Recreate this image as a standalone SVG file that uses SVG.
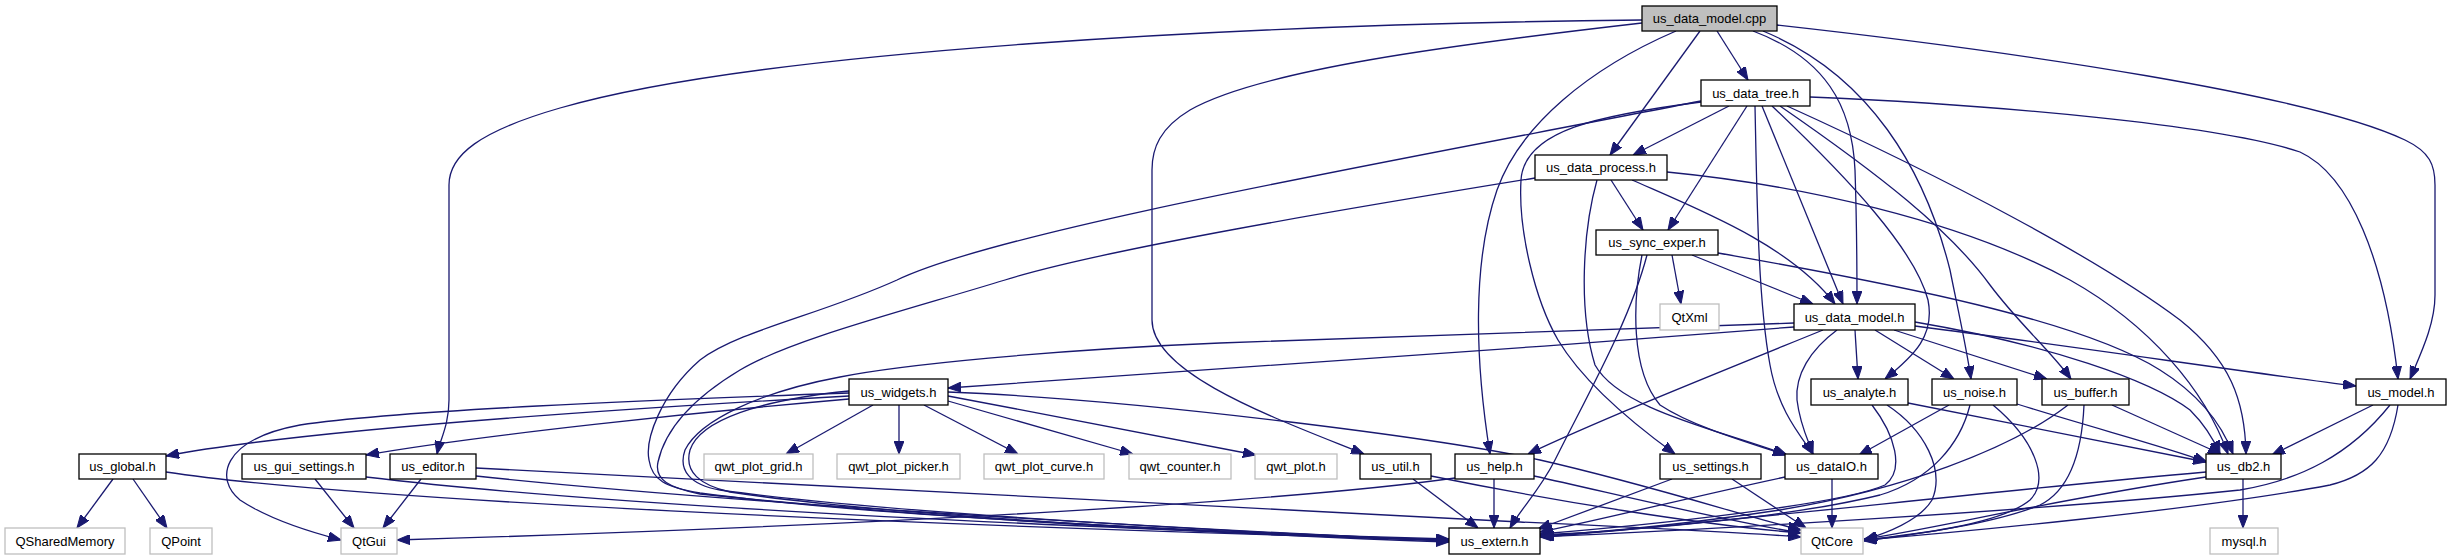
<svg xmlns="http://www.w3.org/2000/svg" width="2451" height="560" viewBox="0 0 2451 560">
<defs>
<marker id="a" viewBox="0 0 13 10" refX="13" refY="5" markerWidth="13" markerHeight="10" markerUnits="userSpaceOnUse" orient="auto">
<path d="M0,0 L13,5 L0,10 z" fill="#191970" stroke="#191970" stroke-width="1"/>
</marker>
</defs>
<style>
.e path{fill:none;stroke:#191970;stroke-width:1.3;marker-end:url(#a)}
.n rect{fill:#fff;stroke:#000;stroke-width:1.3}
.x rect{fill:#fff;stroke:#bfbfbf;stroke-width:1.3}
.r rect{fill:#bfbfbf;stroke:#000;stroke-width:1.3}
text{font-family:"Liberation Sans",Arial,sans-serif;font-size:13px;fill:#000;text-anchor:middle}
</style>
<rect width="2451" height="560" fill="#fff"/>
<g id="edges" class="e">
<path d="M1642,20 C1250,24 760,50 560,108 C480,131 449,155 449,185 L449,400 C449,425 440,440 437,454"/>
<path d="M1642,23 C1450,45 1260,70 1190,110 C1160,128 1152,148 1152,170 L1152,320 C1152,375 1280,420 1364,454"/>
<path d="M1700,31 L1610,155"/>
<path d="M1717,31 L1748,80"/>
<path d="M1753,31 C1825,58 1852,105 1855,170 C1857,230 1857,270 1857,304"/>
<path d="M1763,31 C1870,75 1925,170 1950,270 C1958,310 1966,345 1971,379"/>
<path d="M1777,25 C2020,52 2310,95 2405,140 C2430,152 2435,165 2435,185 L2435,295 C2435,325 2420,355 2410,379"/>
<path d="M1676,31 C1590,68 1520,125 1497,190 C1472,262 1475,360 1490,454"/>
<path d="M1729,106 L1633,155"/>
<path d="M1747,106 L1668,230"/>
<path d="M1762,106 L1843,304"/>
<path d="M1755,106 C1757,200 1758,300 1770,365 C1778,410 1800,435 1813,454"/>
<path d="M1701,102 C1600,115 1524,130 1521,180 C1518,230 1535,300 1558,340 C1585,385 1635,425 1675,454"/>
<path d="M1701,101 C1400,160 1000,230 897,280 C820,315 740,330 700,360 C660,395 645,440 649,460 C652,480 665,487 700,493 C900,520 1300,535 1449,539"/>
<path d="M1772,106 C1850,180 1915,250 1928,300 C1935,335 1915,355 1885,379"/>
<path d="M1780,106 C1880,175 1950,230 1990,285 C2020,325 2050,350 2071,379"/>
<path d="M1787,106 C1950,180 2100,260 2180,320 C2230,360 2245,400 2246,454"/>
<path d="M1810,97 C2000,105 2220,125 2300,152 C2350,175 2385,260 2398,379"/>
<path d="M1611,180 L1643,230"/>
<path d="M1632,180 C1700,210 1790,245 1835,304"/>
<path d="M1597,180 C1583,230 1578,310 1595,365 C1620,410 1720,430 1787,455"/>
<path d="M1535,178 C1350,208 1100,250 1005,280 C900,312 790,340 740,370 C690,400 665,430 658,462 C654,480 670,488 700,494 C1000,525 1300,537 1449,540"/>
<path d="M1667,172 C1800,185 1960,220 2070,280 C2150,325 2205,390 2228,454"/>
<path d="M1692,255 L1813,304"/>
<path d="M1672,255 L1681,304"/>
<path d="M1647,255 C1630,320 1590,390 1555,460 C1540,490 1520,510 1510,528"/>
<path d="M1642,255 C1633,300 1630,370 1660,405 C1690,425 1740,440 1786,455"/>
<path d="M1718,253 C1900,285 2080,320 2160,370 C2200,395 2222,425 2233,454"/>
<path d="M1794,327 C1500,350 1150,375 948,388"/>
<path d="M1794,323 L1220,343 C1050,350 900,365 840,377 C760,392 700,420 685,450 C678,470 690,485 720,490 C900,515 1300,535 1449,541"/>
<path d="M1823,330 C1700,380 1600,420 1528,454"/>
<path d="M1837,330 C1810,350 1795,375 1797,400 C1800,425 1808,440 1813,454"/>
<path d="M1855,330 L1858,379"/>
<path d="M1875,330 L1954,379"/>
<path d="M1894,330 L2047,379"/>
<path d="M1915,322 C2050,345 2150,380 2190,410 C2205,425 2214,440 2220,454"/>
<path d="M1915,326 C2100,350 2250,373 2356,386"/>
<path d="M849,393 C650,400 400,410 300,425 C220,440 215,480 240,500 C270,520 310,532 341,540"/>
<path d="M849,396 C600,410 300,430 166,456"/>
<path d="M849,399 C700,412 480,435 366,455"/>
<path d="M873,405 L786,454"/>
<path d="M899,405 L899,454"/>
<path d="M924,405 L1018,454"/>
<path d="M948,401 L1133,454"/>
<path d="M948,396 C1050,415 1150,435 1256,455"/>
<path d="M948,392 C1150,400 1450,440 1540,460 C1650,485 1740,515 1801,530"/>
<path d="M849,391 C760,400 700,420 690,450 C684,472 700,485 730,492 C900,518 1300,537 1449,542"/>
<path d="M113,479 L77,528"/>
<path d="M133,479 L167,528"/>
<path d="M166,472 C350,500 900,525 1449,540"/>
<path d="M315,479 L354,528"/>
<path d="M366,477 C600,505 1000,525 1449,540"/>
<path d="M421,479 L383,528"/>
<path d="M476,476 C700,500 1100,525 1449,541"/>
<path d="M476,468 C700,480 1200,505 1520,522 C1650,528 1750,533 1801,537"/>
<path d="M1494,479 L1494,528"/>
<path d="M1534,476 C1620,495 1720,520 1801,533"/>
<path d="M1455,478 C1300,500 900,525 397,540"/>
<path d="M1413,479 L1478,528"/>
<path d="M1431,476 C1550,500 1700,525 1801,533"/>
<path d="M1672,479 L1538,529"/>
<path d="M1732,479 L1806,528"/>
<path d="M1832,479 L1832,528"/>
<path d="M1785,477 C1700,495 1600,520 1540,532"/>
<path d="M1872,405 C1895,435 1905,470 1885,485 C1840,505 1650,525 1540,534"/>
<path d="M1887,405 C1925,430 1945,470 1932,500 C1920,520 1890,532 1864,540"/>
<path d="M1908,403 L2206,462"/>
<path d="M1949,405 L1859,455"/>
<path d="M1970,405 C1960,445 1930,480 1880,495 C1800,515 1650,530 1540,535"/>
<path d="M1993,405 C2035,440 2050,480 2030,500 C2000,525 1910,535 1864,540"/>
<path d="M2017,404 C2100,430 2160,445 2207,462"/>
<path d="M2112,405 L2221,454"/>
<path d="M2068,405 C2010,450 1900,490 1780,510 C1680,525 1590,533 1540,536"/>
<path d="M2084,405 C2082,450 2070,490 2040,505 C1990,525 1910,535 1864,541"/>
<path d="M2373,405 L2272,455"/>
<path d="M2390,405 C2350,455 2300,480 2240,490 C2050,510 1700,530 1540,537"/>
<path d="M2398,405 C2390,455 2370,475 2330,485 C2200,510 1950,533 1864,540"/>
<path d="M2206,472 C2000,490 1700,525 1541,537"/>
<path d="M2206,477 C2050,500 1930,530 1864,539"/>
<path d="M2243,479 L2243,528"/>
</g>
<g id="cpp" class="r"><rect x="1642" y="6" width="135" height="25"/><text x="1709.5" y="23">us_data_model.cpp</text></g>
<g id="data_tree" class="n"><rect x="1701" y="80" width="109" height="26"/><text x="1755.5" y="97.5">us_data_tree.h</text></g>
<g id="data_process" class="n"><rect x="1535" y="155" width="132" height="25"/><text x="1601" y="172">us_data_process.h</text></g>
<g id="sync_exper" class="n"><rect x="1596" y="230" width="122" height="25"/><text x="1657" y="247">us_sync_exper.h</text></g>
<g id="data_model" class="n"><rect x="1794" y="304" width="121" height="26"/><text x="1854.5" y="321.5">us_data_model.h</text></g>
<g id="qtxml" class="x"><rect x="1660" y="304" width="59" height="26"/><text x="1689.5" y="321.5">QtXml</text></g>
<g id="widgets" class="n"><rect x="849" y="379" width="99" height="26"/><text x="898.5" y="396.5">us_widgets.h</text></g>
<g id="analyte" class="n"><rect x="1811" y="379" width="97" height="26"/><text x="1859.5" y="396.5">us_analyte.h</text></g>
<g id="noise" class="n"><rect x="1932" y="379" width="85" height="26"/><text x="1974.5" y="396.5">us_noise.h</text></g>
<g id="buffer" class="n"><rect x="2042" y="379" width="87" height="26"/><text x="2085.5" y="396.5">us_buffer.h</text></g>
<g id="model" class="n"><rect x="2356" y="379" width="90" height="26"/><text x="2401" y="396.5">us_model.h</text></g>
<g id="global" class="n"><rect x="79" y="454" width="87" height="25"/><text x="122.5" y="471">us_global.h</text></g>
<g id="gui_settings" class="n"><rect x="242" y="454" width="124" height="25"/><text x="304" y="471">us_gui_settings.h</text></g>
<g id="editor" class="n"><rect x="390" y="454" width="86" height="25"/><text x="433" y="471">us_editor.h</text></g>
<g id="qwt_plot_grid" class="x"><rect x="704" y="454" width="109" height="25"/><text x="758.5" y="471">qwt_plot_grid.h</text></g>
<g id="qwt_plot_picker" class="x"><rect x="837" y="454" width="123" height="25"/><text x="898.5" y="471">qwt_plot_picker.h</text></g>
<g id="qwt_plot_curve" class="x"><rect x="984" y="454" width="120" height="25"/><text x="1044" y="471">qwt_plot_curve.h</text></g>
<g id="qwt_counter" class="x"><rect x="1129" y="454" width="102" height="25"/><text x="1180" y="471">qwt_counter.h</text></g>
<g id="qwt_plot" class="x"><rect x="1255" y="454" width="82" height="25"/><text x="1296" y="471">qwt_plot.h</text></g>
<g id="util" class="n"><rect x="1360" y="454" width="71" height="25"/><text x="1395.5" y="471">us_util.h</text></g>
<g id="help" class="n"><rect x="1455" y="454" width="79" height="25"/><text x="1494.5" y="471">us_help.h</text></g>
<g id="settings" class="n"><rect x="1660" y="454" width="101" height="25"/><text x="1710.5" y="471">us_settings.h</text></g>
<g id="dataIO" class="n"><rect x="1785" y="454" width="93" height="25"/><text x="1831.5" y="471">us_dataIO.h</text></g>
<g id="db2" class="n"><rect x="2206" y="454" width="75" height="25"/><text x="2243.5" y="471">us_db2.h</text></g>
<g id="qsharedmemory" class="x"><rect x="5" y="528" width="120" height="26"/><text x="65" y="545.5">QSharedMemory</text></g>
<g id="qpoint" class="x"><rect x="150" y="528" width="62" height="26"/><text x="181" y="545.5">QPoint</text></g>
<g id="qtgui" class="x"><rect x="341" y="528" width="56" height="26"/><text x="369" y="545.5">QtGui</text></g>
<g id="extern" class="n"><rect x="1449" y="528" width="91" height="26"/><text x="1494.5" y="545.5">us_extern.h</text></g>
<g id="qtcore" class="x"><rect x="1801" y="528" width="62" height="26"/><text x="1832" y="545.5">QtCore</text></g>
<g id="mysql" class="x"><rect x="2210" y="528" width="68" height="26"/><text x="2244" y="545.5">mysql.h</text></g>
</svg>
